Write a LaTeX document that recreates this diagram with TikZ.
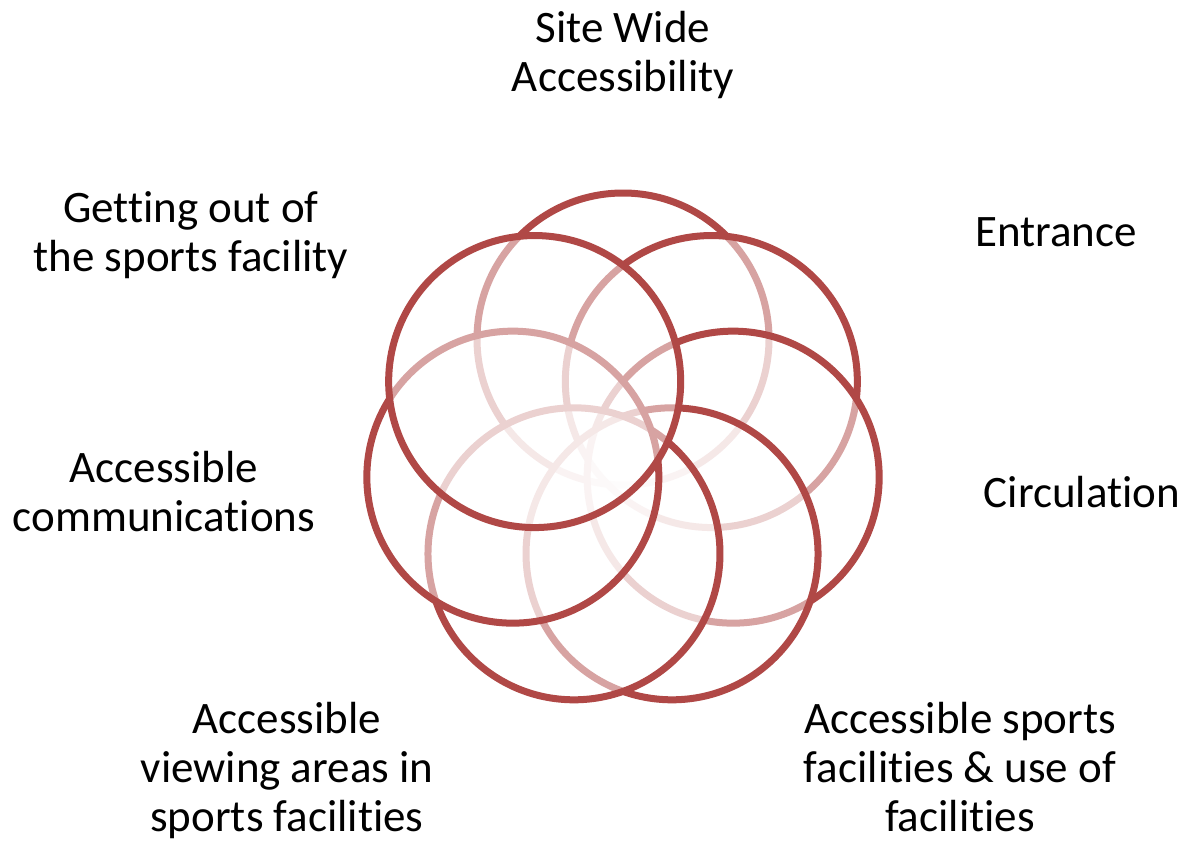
\documentclass[tikz,border=0pt]{standalone}
\usepackage{fontspec}
\setmainfont[Ligatures={NoCommon,NoContextual}]{Carlito}
\definecolor{ringred}{RGB}{176,72,70}
\begin{document}
\begin{tikzpicture}[x=1pt,y=-1pt,
  ringc/.style={circle, draw=ringred, line width=7pt, fill=white, fill opacity=0.5,
    draw opacity=1, minimum size=292pt, inner sep=0pt, outer sep=0pt},
  lbl/.style={align=center, inner sep=0pt, font=\fontsize{45}{49}\selectfont, text=black}]
\useasboundingbox (0,0) rectangle (1185,841);
\fill[white] (0,0) rectangle (1185,841);
% ring centre (623,452), R = 113
\foreach \i/\nm in {0/cA,1/cB,2/cC,3/cD,4/cE,5/cF,6/cG}{
  \pgfmathsetmacro\ang{90-\i*360/7}
  \node[ringc] (\nm) at ({623+113*cos(\ang)},{452-113*sin(\ang)}) {};
}
\node[lbl] (tA) at (623,55) {Site Wide\\Accessibility};
\node[lbl] (tB) at (1056,232) {Entrance};
\node[lbl] (tC) at (1082,492) {Circulation};
\node[lbl] (tD) at (960,767) {Accessible sports\\facilities \& use of\\facilities};
\node[lbl] (tE) at (287,770) {Accessible\\viewing areas in\\sports facilities};
\node[lbl] (tF) at (164,492) {Accessible\\communications};
\node[lbl] (tG) at (191,235) {Getting out of\\the sports facility};
\end{tikzpicture}
\end{document}
